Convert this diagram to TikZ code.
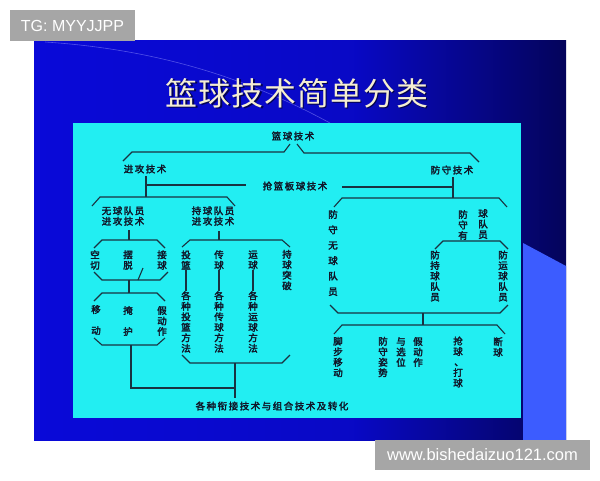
\documentclass[tikz,border=0pt]{standalone}
\usepackage{fontspec}
\newfontfamily\hei{Noto Sans CJK SC}[FakeBold=2.6,LetterSpace=16]
\newfontfamily\biaoti{Noto Sans CJK SC}[LetterSpace=3]
\newfontfamily\wm{Liberation Sans}
\definecolor{qing}{RGB}{34,238,242}
\definecolor{lan}{RGB}{10,10,232}
\definecolor{qianlan}{RGB}{60,92,255}
\definecolor{mo}{RGB}{16,22,40}
\definecolor{xianse}{RGB}{25,50,64}
\definecolor{huang}{RGB}{245,238,210}
\definecolor{hui}{RGB}{166,166,166}
\pgfdeclarehorizontalshading{beijing}{100bp}{color(0bp)=(lan); color(55bp)=(lan!85!black); color(92bp)=(black); color(100bp)=(black)}
\tikzset{
  xian/.style={draw=xianse,line width=1.1pt},
  zi/.style={font=\hei\fontsize{9.5}{10.5}\selectfont,text=mo,inner sep=0pt,align=center},
  kuan/.style={zi,font=\hei\fontsize{9.5}{15.4}\selectfont},
  shuiyin/.style={fill=hui,text=white,inner sep=0pt}
}
% bracket: left x, right x, y, drop of the two ends
\newcommand{\kuo}[4]{\draw[xian] ({#1-8},{#3+#4}) -- (#1,#3) -- (#2,#3) -- ({#2+8},{#3+#4});}
\begin{document}
\begin{tikzpicture}[x=1pt,y=-1pt]
\useasboundingbox (0,0) rectangle (600,480);
\fill[white] (0,0) rectangle (600,480);
% slide
\shade[shading=beijing] (34,40) rectangle (566,440);
\fill[qianlan] (523,243) -- (566,266) -- (566,440) -- (523,440) -- cycle;
\draw[blue!40!white,opacity=.5,line width=.6pt] (45,42) .. controls (170,50) and (260,85) .. (330,123);
\fill[qing] (73,123) rectangle (521,418);
% title
\node[font=\biaoti\fontsize{32}{36}\selectfont,text=black,opacity=.6] at (298.5,94.5) {篮球技术简单分类};
\node[font=\biaoti\fontsize{32}{36}\selectfont,text=huang] (bt) at (297,93) {篮球技术简单分类};

% top level
\node[zi] (lq) at (293,136) {篮球技术};
\draw[xian] (123,161) -- (132,152) -- (284,152) -- (290,144);
\draw[xian] (297,144) -- (304,153) -- (470,153) -- (479,162);
\node[zi] (jg) at (145,169) {进攻技术};
\node[zi] (fs) at (452,170) {防守技术};
\node[zi] (qlb) at (295,186) {抢篮板球技术};
\draw[xian] (146,176) -- (146,197);
\draw[xian] (146,185) -- (246,185);
\draw[xian] (453,177) -- (453,198);
\draw[xian] (342,187) -- (453,187);

% offence
\kuo{100}{227}{197}{9}
\node[zi] (wq) at (123,216) {无球队员\\进攻技术};
\node[zi] (cq) at (213,216) {持球队员\\进攻技术};
\draw[xian] (129,230) -- (129,240);
\kuo{102}{157}{240}{8}
\node[zi] (kq) at (95,260) {空\\切};
\node[zi] (bt2) at (128,260) {摆\\脱};
\node[zi] (jq) at (162,260) {接\\球};
\kuo{102}{160}{280}{-8}
\draw[xian] (143,268) -- (138,280);
\draw[xian] (129,280) -- (129,293);
\kuo{102}{157}{293}{8}
\node[zi,font=\hei\fontsize{9.5}{21}\selectfont] (yd) at (96,320) {移\\动};
\node[zi,font=\hei\fontsize{9.5}{21}\selectfont] (yh) at (128,321) {掩\\护};
\node[zi] (jdz) at (162,321) {假\\动\\作};
\kuo{102}{157}{345}{-7}
\draw[xian] (131,345) -- (131,388) -- (235,388);

\draw[xian] (219,231) -- (219,240);
\kuo{190}{282}{240}{7}
\node[zi] (tl) at (186,260) {投\\篮};
\node[zi] (cqiu) at (219,260) {传\\球};
\node[zi] (yq) at (253,260) {运\\球};
\node[zi] (tp) at (287,270) {持\\球\\突\\破};
\foreach \x in {186,219,253}
  \draw[xian] (\x,270) -- (\x,291);
\node[zi] (tlff) at (186,322) {各\\种\\投\\篮\\方\\法};
\node[zi] (cqff) at (219,322) {各\\种\\传\\球\\方\\法};
\node[zi] (yqff) at (253,322) {各\\种\\运\\球\\方\\法};
\kuo{190}{282}{363}{-8}
\draw[xian] (235,363) -- (235,398);
\node[zi] (zh) at (272,406) {各种衔接技术与组合技术及转化};

% defence
\kuo{342}{499}{198}{9}
\node[kuan] (fswq) at (333,253) {防\\守\\无\\球\\队\\员};
\node[zi] (fsy1) at (463,225) {防\\守\\有};
\node[zi] (fsy2) at (483,224) {球\\队\\员};
\kuo{443}{500}{241}{8}
\node[zi] (fcq) at (435,276) {防\\持\\球\\队\\员};
\node[zi] (fyq) at (503,276) {防\\运\\球\\队\\员};
\kuo{338}{500}{313}{-8}
\draw[xian] (423,313) -- (423,325);
\kuo{342}{497}{325}{9}
\node[zi] (jb) at (338,357) {脚\\步\\移\\动};
\node[zi] (zs) at (383,357) {防\\守\\姿\\势};
\node[zi] (xw) at (401,352) {与\\选\\位};
\node[zi] (jdz2) at (418,352) {假\\动\\作};
\node[zi] (qq) at (458,362) {抢\\球\\{\kern2pt、}\\打\\球};
\node[zi] (dq) at (498,347) {断\\球};

% watermarks
\node[shuiyin,font=\wm\fontsize{16}{18}\selectfont,minimum width=125pt,minimum height=31pt] (tg) at (72.5,25.5) {TG: MYYJJPP};
\node[shuiyin,font=\wm\fontsize{16.5}{18}\selectfont,minimum width=215pt,minimum height=30pt] (wz) at (482.5,455) {www.bishedaizuo121.com};
\end{tikzpicture}
\end{document}
